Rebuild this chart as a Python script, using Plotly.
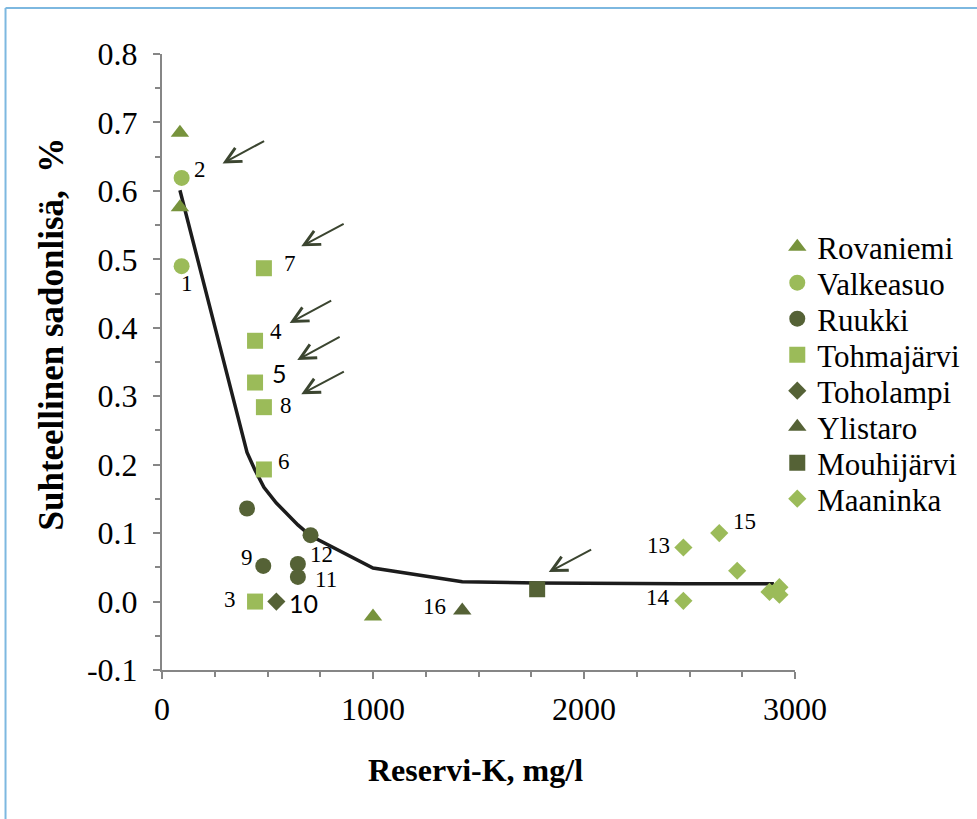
import plotly.graph_objects as go

# Reserve potassium (mg/l) vs. relative yield increase, by trial site
rovaniemi_x = [85, 85, 1000]
rovaniemi_y = [0.685, 0.576, -0.022]

valkeasuo_x = [93, 93]
valkeasuo_y = [0.490, 0.619]
valkeasuo_labels = ["1", "2"]

ruukki_x = [403, 704, 480, 644, 644]
ruukki_y = [0.136, 0.097, 0.052, 0.055, 0.036]
ruukki_labels = ["", "", "9", "12", "11"]

tohmajarvi_x = [441, 441, 441, 483, 483, 483]
tohmajarvi_y = [0.000, 0.381, 0.320, 0.193, 0.487, 0.284]
tohmajarvi_labels = ["3", "4", "5", "6", "7", "8"]

toholampi_x = [542]
toholampi_y = [0.000]
toholampi_labels = ["10"]

ylistaro_x = [1423]
ylistaro_y = [-0.013]
ylistaro_labels = ["16"]

mouhijarvi_x = [1778]
mouhijarvi_y = [0.018]

maaninka_x = [2471, 2471, 2641, 2726, 2879, 2926, 2926]
maaninka_y = [0.079, 0.001, 0.100, 0.045, 0.014, 0.021, 0.010]
maaninka_labels = ["13", "14", "15", "", "", "", ""]

# Fitted response curve
fit_x = [85, 403, 441, 483, 542, 644, 704, 1000, 1423, 1778, 2471, 2900]
fit_y = [0.601, 0.218, 0.192, 0.167, 0.144, 0.112, 0.096, 0.049, 0.029, 0.027, 0.026, 0.026]

# Axis ticks
y_tickvals = [-0.1, 0.0, 0.1, 0.2, 0.3, 0.4, 0.5, 0.6, 0.7, 0.8]
y_ticktext = ["-0.1", "0.0", "0.1", "0.2", "0.3", "0.4", "0.5", "0.6", "0.7", "0.8"]
x_tickvals = [0, 1000, 2000, 3000]
x_ticktext = ["0", "1000", "2000", "3000"]

# Pointer arrows (tail -> head, data units)
arrow_tail_x = [491, 868, 809, 849, 869, 2041]
arrow_tail_y = [0.674, 0.553, 0.441, 0.388, 0.337, 0.077]
arrow_head_x = [287, 660, 605, 641, 660, 1833]
arrow_head_y = [0.640, 0.519, 0.407, 0.353, 0.303, 0.043]

LIGHT = "#9BBB59"
OLIVE = "#77933C"
DARK = "#556236"
SERIF = "Liberation Serif, Times New Roman, serif"
SANS = "Lato, Calibri, sans-serif"

series = [
    ("Rovaniemi", rovaniemi_x, rovaniemi_y, "triangle-up", OLIVE, 16),
    ("Valkeasuo", valkeasuo_x, valkeasuo_y, "circle", LIGHT, 16),
    ("Ruukki", ruukki_x, ruukki_y, "circle", DARK, 16),
    ("Tohmajärvi", tohmajarvi_x, tohmajarvi_y, "square", LIGHT, 16),
    ("Toholampi", toholampi_x, toholampi_y, "diamond", DARK, 14),
    ("Ylistaro", ylistaro_x, ylistaro_y, "triangle-up", DARK, 16),
    ("Mouhijärvi", mouhijarvi_x, mouhijarvi_y, "square", DARK, 16),
    ("Maaninka", maaninka_x, maaninka_y, "diamond", LIGHT, 14),
]

fig = go.Figure()

fig.add_trace(go.Scatter(
    x=fit_x, y=fit_y, mode="lines",
    line=dict(color="#1c1c1c", width=3.5),
    showlegend=False, hoverinfo="skip",
))

# one legend box per site so the entries sit on a tight line pitch
legend_top_px = 247
legend_step_px = 36
plot_top, plot_h = 54, 616
legend_layouts = {}
for i, (name, xs, ys, sym, col, size) in enumerate(series):
    key = "legend" if i == 0 else f"legend{i + 1}"
    fig.add_trace(go.Scatter(
        x=xs, y=ys, mode="markers", name=name,
        marker=dict(symbol=sym, color=col, size=size, line=dict(width=0)),
        legend=key,
    ))
    py = legend_top_px + i * legend_step_px
    legend_layouts[key] = dict(
        x=0.972, xanchor="left",
        y=(plot_top + plot_h - py) / plot_h, yanchor="middle",
        bgcolor="rgba(0,0,0,0)", borderwidth=0,
        font=dict(family=SERIF, size=31, color="black"),
    )

# point number labels: (x list, y list, labels, pixel offsets)
label_sets = [
    (valkeasuo_x, valkeasuo_y, valkeasuo_labels, [(5, -17), (18, 8)]),
    (ruukki_x, ruukki_y, ruukki_labels, [(0, 0), (0, 0), (-16, 8), (24, 9), (28, -3)]),
    (tohmajarvi_x, tohmajarvi_y, tohmajarvi_labels,
     [(-25, 2), (21, 9), (24, 10), (20, 8), (26, 5), (22, 2)]),
    (toholampi_x, toholampi_y, toholampi_labels, [(27, -1)]),
    (ylistaro_x, ylistaro_y, ylistaro_labels, [(-28, 4)]),
    (maaninka_x, maaninka_y, maaninka_labels, [(-25, 2), (-25, 3), (25, 12)]),
]
sans_labels = {"5", "10"}

annotations = []
for xs, ys, labels, offsets in label_sets:
    for x, y, lab, off in zip(xs, ys, labels, offsets):
        if not lab:
            continue
        is_sans = lab in sans_labels
        annotations.append(dict(
            x=x, y=y, xref="x", yref="y", text=lab, showarrow=False,
            xshift=off[0], yshift=off[1],
            font=dict(family=SANS if is_sans else SERIF,
                      size=25 if is_sans else 23, color="black"),
        ))

for tx, ty, hx, hy in zip(arrow_tail_x, arrow_tail_y, arrow_head_x, arrow_head_y):
    annotations.append(dict(
        x=hx, y=hy, ax=tx, ay=ty, xref="x", yref="y", axref="x", ayref="y",
        text="", showarrow=True, arrowhead=5, arrowsize=1.5, arrowwidth=2,
        arrowcolor="#3b4530", standoff=0, startstandoff=0,
    ))

# axis titles
annotations.append(dict(
    x=0.496, y=-0.162, xref="paper", yref="paper", showarrow=False,
    xanchor="center", yanchor="middle",
    text="<b>Reservi-K, mg/l</b>",
    font=dict(family=SERIF, size=32, color="black"),
))
annotations.append(dict(
    x=-0.175, y=0.545, xref="paper", yref="paper", showarrow=False,
    xanchor="center", yanchor="middle",
    text="<b>Suhteellinen sadonlisä, \u00a0%</b>", textangle=-90,
    font=dict(family=SERIF, size=35, color="black"),
))

axis_color = "#868686"
fig.update_layout(
    width=977, height=819,
    margin=dict(l=162, r=180, t=54, b=149),
    paper_bgcolor="white", plot_bgcolor="white",
    font=dict(family=SERIF, size=32, color="black"),
    annotations=annotations,
    shapes=[
        dict(type="line", xref="paper", yref="paper",
             x0=-0.2472, x1=-0.2472, y0=1.0747, y1=-0.26,
             line=dict(color="#7DB8E0", width=2)),
        dict(type="line", xref="paper", yref="paper",
             x0=-0.2472, x1=1.30, y0=1.0747, y1=1.0747,
             line=dict(color="#7DB8E0", width=2)),
    ],
    xaxis=dict(
        range=[0, 3000], tickvals=x_tickvals, ticktext=x_ticktext,
        showgrid=False, zeroline=False, showline=True,
        linecolor=axis_color, linewidth=2,
        ticks="outside", ticklen=7, tickwidth=1.5, tickcolor=axis_color,
        minor=dict(dtick=250, ticks="outside", ticklen=5, tickwidth=1.5,
                   tickcolor=axis_color, showgrid=False),
        tickfont=dict(family=SERIF, size=32, color="black"),
        ticklabelstandoff=3,
    ),
    yaxis=dict(
        range=[-0.1, 0.8], tickvals=y_tickvals, ticktext=y_ticktext,
        showgrid=False, zeroline=False, showline=True,
        linecolor=axis_color, linewidth=2,
        ticks="outside", ticklen=7, tickwidth=1.5, tickcolor=axis_color,
        minor=dict(dtick=0.05, ticks="outside", ticklen=5, tickwidth=1.5,
                   tickcolor=axis_color, showgrid=False),
        tickfont=dict(family=SERIF, size=32, color="black"),
        ticklabelstandoff=9,
    ),
    **legend_layouts,
)

fig.write_html("out.html")
